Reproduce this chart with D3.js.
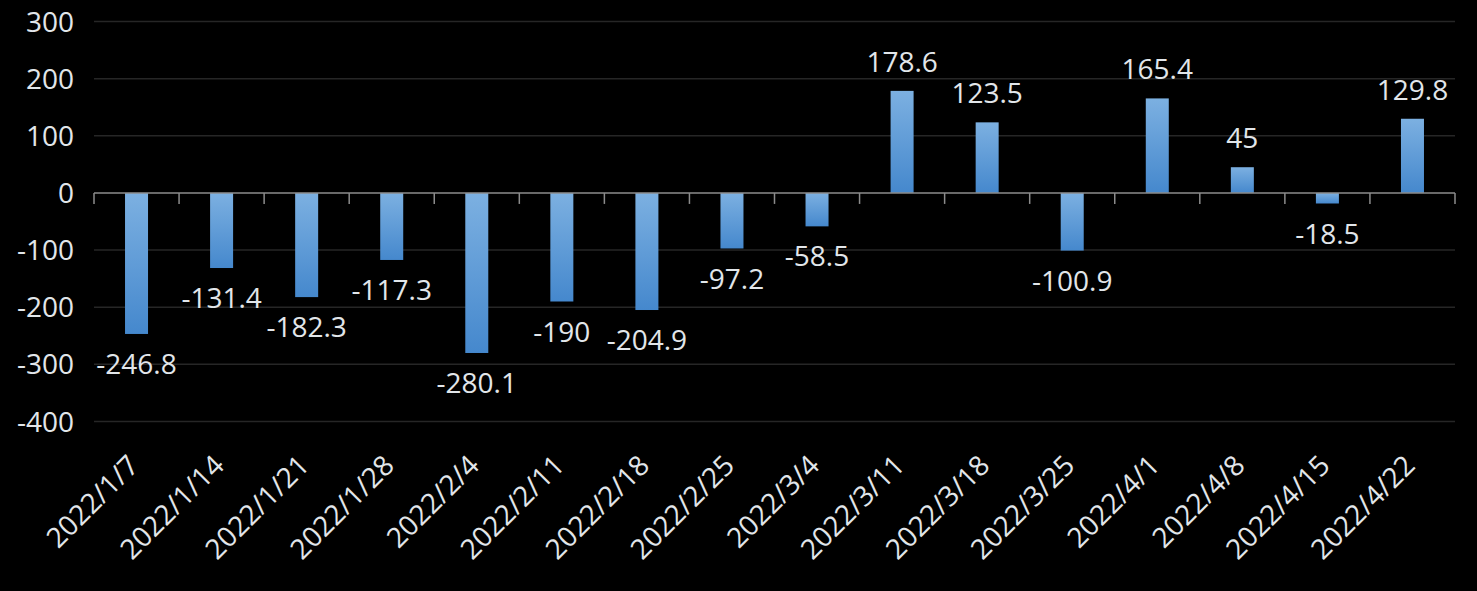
<!DOCTYPE html>
<html>
<head>
<meta charset="utf-8">
<script src="https://cdn.jsdelivr.net/npm/d3@7"></script>
<style>
  html, body { margin: 0; padding: 0; background: #000; }
  svg { display: block; }
  text { font-family: "Open Sans", "Noto Sans", sans-serif; fill: #e2e6ea; }
</style>
</head>
<body>
<svg id="chart" width="1477" height="591"></svg>
<script>
const dates = ["2022/1/7", "2022/1/14", "2022/1/21", "2022/1/28", "2022/2/4", "2022/2/11",
  "2022/2/18", "2022/2/25", "2022/3/4", "2022/3/11", "2022/3/18", "2022/3/25",
  "2022/4/1", "2022/4/8", "2022/4/15", "2022/4/22"];
const values = [-246.8, -131.4, -182.3, -117.3, -280.1, -190, -204.9, -97.2, -58.5,
  178.6, 123.5, -100.9, 165.4, 45, -18.5, 129.8];
const yTicks = [300, 200, 100, 0, -100, -200, -300, -400];

const svg = d3.select("#chart");
const margin = { left: 94, right: 1455, top: 21.5, bottom: 421.5 };

const x = d3.scaleBand().domain(dates).range([margin.left, margin.right]).paddingInner(0).paddingOuter(0);
const y = d3.scaleLinear().domain([-400, 300]).range([margin.bottom, margin.top]);

const defs = svg.append("defs");
const grad = defs.append("linearGradient")
    .attr("id", "barGrad")
    .attr("x1", 0).attr("y1", 0).attr("x2", 0).attr("y2", 1);
grad.append("stop").attr("offset", "0%").attr("stop-color", "#7cb0e1");
grad.append("stop").attr("offset", "100%").attr("stop-color", "#4588cd");

// grid lines
svg.append("g")
  .selectAll("line")
  .data(yTicks.filter(d => d !== 0))
  .join("line")
    .attr("x1", margin.left)
    .attr("x2", margin.right)
    .attr("y1", d => y(d))
    .attr("y2", d => y(d))
    .attr("stroke", "#262626")
    .attr("stroke-width", 1.5);

// y labels
svg.append("g")
  .selectAll("text")
  .data(yTicks)
  .join("text")
    .attr("x", 74)
    .attr("y", d => y(d))
    .attr("dy", "0.36em")
    .attr("text-anchor", "end")
    .style("font-size", "28px")
    .text(d => d);

// bars
const bw = 23;
svg.append("g")
  .selectAll("rect")
  .data(values)
  .join("rect")
    .attr("x", (d, i) => x(dates[i]) + x.bandwidth() / 2 - bw / 2)
    .attr("y", d => y(Math.max(0, d)))
    .attr("width", bw)
    .attr("height", d => Math.abs(y(d) - y(0)))
    .attr("fill", "url(#barGrad)");

// zero axis with ticks
const axis = svg.append("g");
axis.append("line")
    .attr("x1", margin.left).attr("x2", margin.right)
    .attr("y1", y(0)).attr("y2", y(0))
    .attr("stroke", "#8c8c8c").attr("stroke-width", 1.5);
axis.selectAll("line.tick")
  .data(dates.concat(["end"]))
  .join("line")
    .attr("class", "tick")
    .attr("x1", (d, i) => margin.left + i * x.bandwidth())
    .attr("x2", (d, i) => margin.left + i * x.bandwidth())
    .attr("y1", y(0))
    .attr("y2", y(0) + 11)
    .attr("stroke", "#8c8c8c").attr("stroke-width", 1.5);

// value labels
svg.append("g")
  .selectAll("text")
  .data(values)
  .join("text")
    .attr("x", (d, i) => x(dates[i]) + x.bandwidth() / 2)
    .attr("y", d => d >= 0 ? y(d) - 29 : y(d) + 30)
    .attr("dy", "0.36em")
    .attr("text-anchor", "middle")
    .style("font-size", "28px")
    .text(d => d);

// x labels
svg.append("g")
  .selectAll("text")
  .data(dates)
  .join("text")
    .attr("transform", d => `translate(${x(d) + x.bandwidth() / 2 - 3},${460}) rotate(-45)`)
    .attr("text-anchor", "end")
    .attr("dy", "0.36em")
    .style("font-size", "28px")
    .text(d => d);
</script>
</body>
</html>
